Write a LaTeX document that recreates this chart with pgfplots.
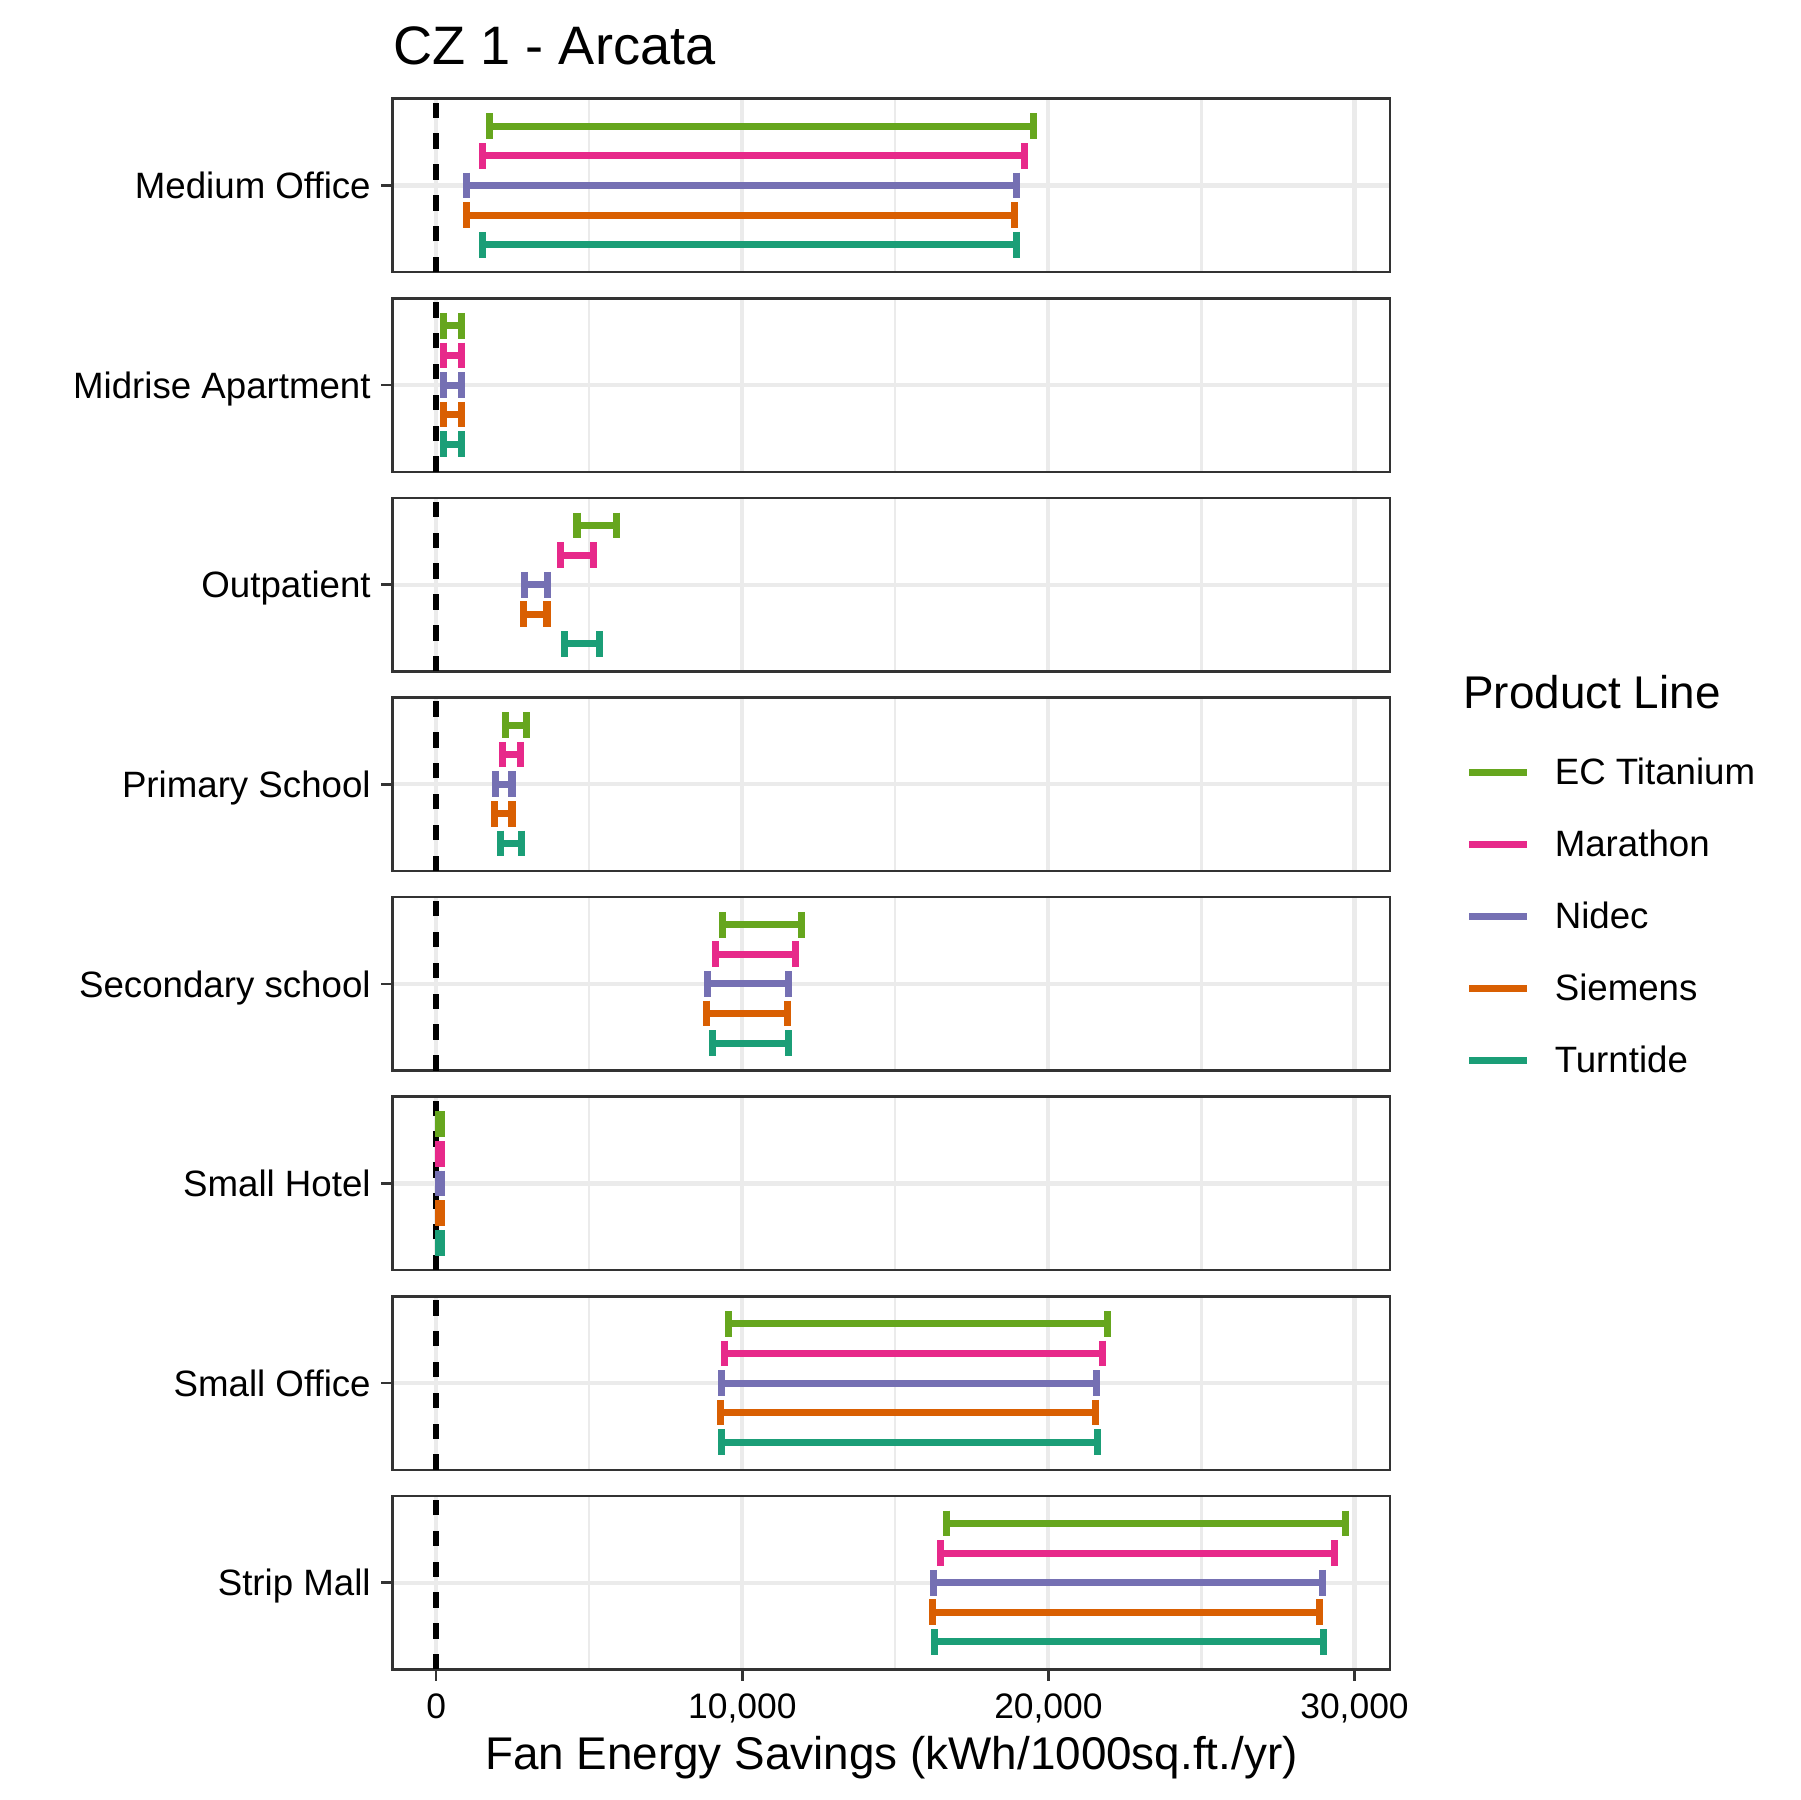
\documentclass[border=0pt]{standalone}
\usepackage{fontspec}
\setmainfont{Liberation Sans}
\usepackage{pgfplots}
\pgfplotsset{compat=1.18}
\definecolor{cEC}{HTML}{66A61E}
\definecolor{cMar}{HTML}{E7298A}
\definecolor{cNid}{HTML}{7570B3}
\definecolor{cSie}{HTML}{D95F02}
\definecolor{cTur}{HTML}{1B9E77}
\definecolor{gridc}{HTML}{EBEBEB}
\definecolor{gray20}{HTML}{333333}
\newcommand\ticksize{\fontsize{8.5bp}{10bp}\selectfont}
\newcommand\ylabsize{\fontsize{8.8bp}{10bp}\selectfont}
\newcommand\titlesize{\fontsize{13.0bp}{16bp}\selectfont}
\newcommand\labsize{\fontsize{11bp}{13bp}\selectfont}
\pgfplotsset{
 panel/.style={
  anchor=north west, scale only axis, width=239.38bp, height=41.64bp,
  xmin=-1425, xmax=31160, ymin=-2.93, ymax=2.93,
  axis line style={gray20, line width=0.6bp},
  xtick={0,10000,20000,30000}, minor xtick={5000,15000,25000},
  scaled x ticks=false,
  ytick={0}, ytick pos=left, xtick pos=bottom,
  xmajorgrids, xminorgrids, ymajorgrids,
  major grid style={gridc, line width=1.0bp},
  minor grid style={gridc, line width=0.5bp},
  tick align=outside, major tick length=2.76bp, minor tick length=0pt,
  xticklabels={}, xtick style={draw=none},
  ytick style={draw=gray20, line width=0.6bp},
  yticklabel style={font=\ylabsize, anchor=east, inner sep=0pt, text height=6.3bp, text depth=0bp, xshift=-2.31bp},
  every axis plot/.append style={line width=1.7bp, mark=|, mark size=3.08bp, line cap=butt},
  /pgf/number format/assume math mode=true,
 },
 zeroline/.style={black, line width=1.3bp, mark=none, dash pattern=on 3.7bp off 3.7bp, forget plot},
}
\begin{document}
\begin{tikzpicture}
\useasboundingbox (0,0) rectangle (432bp,-432bp);
\node[anchor=base west, inner sep=0pt, font=\titlesize] at (94.22bp,-15.36bp) {CZ 1 - Arcata};
\node[anchor=base west, inner sep=0pt, font=\labsize] at (351.0bp,-170.0bp) {Product Line};

% Medium Office
\begin{axis}[panel, at={(94.22bp,-23.69bp)}, yticklabels={Medium Office},
  legend style={draw=none, fill=none, inner sep=0pt, outer sep=0pt,
    at={(axis description cs:1.0758,-2.802)}, anchor=north west,
    row sep=10.98bp, column sep=5.9bp,
    nodes={inner sep=0pt, text height=6.3bp, text depth=0bp, font=\ylabsize}},
  legend cell align=left,
  legend image code/.code={\draw[#1, mark=none, line cap=butt] (0bp,-0.25bp) -- (13.8bp,-0.25bp);}]
\addplot[zeroline] coordinates {(0,-2.93) (0,2.93)};
\addplot[cEC]  coordinates {(1755,2) (19500,2)};
\addplot[cMar] coordinates {(1508,1) (19230,1)};
\addplot[cNid] coordinates {(990,0) (18968,0)};
\addplot[cSie] coordinates {(990,-1) (18905,-1)};
\addplot[cTur] coordinates {(1508,-2) (18962,-2)};
\legend{EC Titanium, Marathon, Nidec, Siemens, Turntide}
\end{axis}

% Midrise Apartment
\begin{axis}[panel, at={(94.22bp,-71.59bp)}, yticklabels={Midrise Apartment}]
\addplot[zeroline] coordinates {(0,-2.93) (0,2.93)};
\addplot[cEC]  coordinates {(230,2) (840,2)};
\addplot[cMar] coordinates {(230,1) (840,1)};
\addplot[cNid] coordinates {(230,0) (840,0)};
\addplot[cSie] coordinates {(230,-1) (840,-1)};
\addplot[cTur] coordinates {(230,-2) (840,-2)};
\end{axis}

% Outpatient
\begin{axis}[panel, at={(94.22bp,-119.50bp)}, yticklabels={Outpatient}]
\addplot[zeroline] coordinates {(0,-2.93) (0,2.93)};
\addplot[cEC]  coordinates {(4600,2) (5890,2)};
\addplot[cMar] coordinates {(4060,1) (5150,1)};
\addplot[cNid] coordinates {(2870,0) (3640,0)};
\addplot[cSie] coordinates {(2840,-1) (3620,-1)};
\addplot[cTur] coordinates {(4190,-2) (5340,-2)};
\end{axis}

% Primary School
\begin{axis}[panel, at={(94.22bp,-167.40bp)}, yticklabels={Primary School}]
\addplot[zeroline] coordinates {(0,-2.93) (0,2.93)};
\addplot[cEC]  coordinates {(2265,2) (2945,2)};
\addplot[cMar] coordinates {(2157,1) (2757,1)};
\addplot[cNid] coordinates {(1950,0) (2476,0)};
\addplot[cSie] coordinates {(1914,-1) (2476,-1)};
\addplot[cTur] coordinates {(2100,-2) (2777,-2)};
\end{axis}

% Secondary school
\begin{axis}[panel, at={(94.22bp,-215.31bp)}, yticklabels={Secondary school}]
\addplot[zeroline] coordinates {(0,-2.93) (0,2.93)};
\addplot[cEC]  coordinates {(9343,2) (11937,2)};
\addplot[cMar] coordinates {(9137,1) (11728,1)};
\addplot[cNid] coordinates {(8866,0) (11512,0)};
\addplot[cSie] coordinates {(8833,-1) (11467,-1)};
\addplot[cTur] coordinates {(9017,-2) (11522,-2)};
\end{axis}

% Small Hotel
\begin{axis}[panel, at={(94.22bp,-263.21bp)}, yticklabels={Small Hotel}]
\addplot[zeroline] coordinates {(0,-2.93) (0,2.93)};
\addplot[cEC]  coordinates {(60,2) (170,2)};
\addplot[cMar] coordinates {(60,1) (170,1)};
\addplot[cNid] coordinates {(60,0) (170,0)};
\addplot[cSie] coordinates {(60,-1) (170,-1)};
\addplot[cTur] coordinates {(60,-2) (170,-2)};
\end{axis}

% Small Office
\begin{axis}[panel, at={(94.22bp,-311.11bp)}, yticklabels={Small Office}]
\addplot[zeroline] coordinates {(0,-2.93) (0,2.93)};
\addplot[cEC]  coordinates {(9539,2) (21944,2)};
\addplot[cMar] coordinates {(9422,1) (21771,1)};
\addplot[cNid] coordinates {(9311,0) (21585,0)};
\addplot[cSie] coordinates {(9290,-1) (21550,-1)};
\addplot[cTur] coordinates {(9323,-2) (21594,-2)};
\end{axis}

% Strip Mall
\begin{axis}[panel, at={(94.22bp,-359.02bp)}, yticklabels={Strip Mall},
  xticklabels={0,{10,000},{20,000},{30,000}},
  xtick style={draw=gray20, line width=0.6bp},
  xticklabel style={font=\ticksize, anchor=north, inner sep=0pt, text height=6.1bp, text depth=0bp, yshift=-2.64bp},
  xlabel={Fan Energy Savings (kWh/1000sq.ft./yr)},
  xlabel style={font=\labsize, at={(axis description cs:0.5,-0.575)}, anchor=base, inner sep=0pt}]
\addplot[zeroline] coordinates {(0,-2.93) (0,2.93)};
\addplot[cEC]  coordinates {(16684,2) (29709,2)};
\addplot[cMar] coordinates {(16488,1) (29337,1)};
\addplot[cNid] coordinates {(16259,0) (28945,0)};
\addplot[cSie] coordinates {(16226,-1) (28869,-1)};
\addplot[cTur] coordinates {(16291,-2) (28977,-2)};
\end{axis}
\end{tikzpicture}
\end{document}
